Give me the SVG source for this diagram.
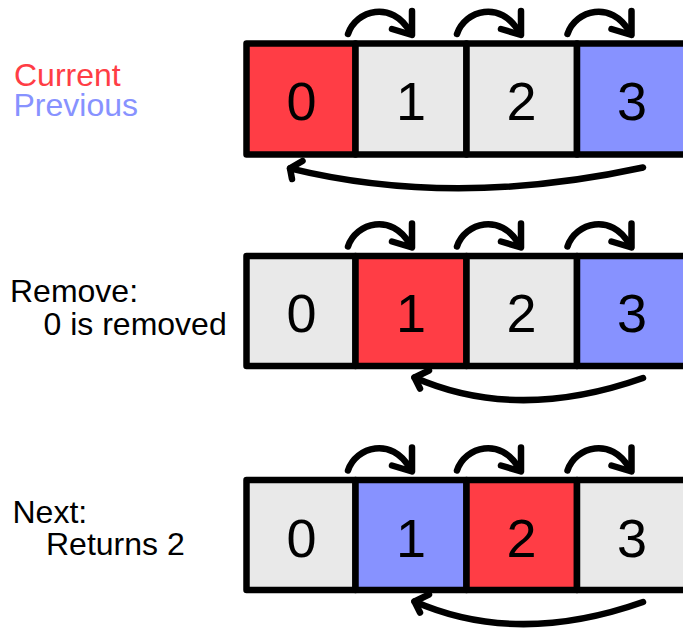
<svg xmlns="http://www.w3.org/2000/svg" width="683" height="628" viewBox="0 0 683 628">
  <style>
    .cell { stroke: #000; stroke-width: 6.5; stroke-linejoin: round; }
    .cur { fill: #ff3d45; }
    .prev { fill: #8792ff; }
    .idle { fill: #e9e9e9; }
    .digit { font-family: "Liberation Sans", Arial, sans-serif; font-size: 54px; fill: #000; text-anchor: middle; }
    .label { font-family: "Liberation Sans", Arial, sans-serif; font-size: 32px; fill: #000; }
    .wire { fill: none; stroke: #000; stroke-width: 6.5; stroke-linecap: round; stroke-linejoin: round; }
  </style>

  <!-- legend and captions -->
  <g id="legend">
    <text class="label" x="14" y="85.5" style="fill:#ff3d45">Current</text>
    <text class="label" x="13.5" y="116" style="fill:#8792ff">Previous</text>
  </g>
  <g id="caption-remove">
    <text class="label" x="10" y="301.5">Remove:</text>
    <text class="label" x="43.5" y="335">0 is removed</text>
  </g>
  <g id="caption-next">
    <text class="label" x="12.5" y="522.5">Next:</text>
    <text class="label" x="46" y="555">Returns 2</text>
  </g>

  <!-- row 1: initial state -->
  <g id="row1">
    <g id="r1c0"><rect class="cell cur" x="246.5" y="43.5" width="109" height="111"/><text class="digit" x="301.5" y="120">0</text></g>
    <g id="r1c1"><rect class="cell idle" x="355.5" y="43.5" width="111" height="111"/><text class="digit" x="411" y="120">1</text></g>
    <g id="r1c2"><rect class="cell idle" x="466.5" y="43.5" width="110.5" height="111"/><text class="digit" x="521.5" y="120">2</text></g>
    <g id="r1c3"><rect class="cell prev" x="577" y="43.5" width="111" height="111"/><text class="digit" x="632" y="120">3</text></g>
  </g>

  <!-- row 2: after remove -->
  <g id="row2">
    <g id="r2c0"><rect class="cell idle" x="246.5" y="256" width="109" height="110"/><text class="digit" x="301.5" y="332">0</text></g>
    <g id="r2c1"><rect class="cell cur" x="355.5" y="256" width="111" height="110"/><text class="digit" x="411" y="332">1</text></g>
    <g id="r2c2"><rect class="cell idle" x="466.5" y="256" width="110.5" height="110"/><text class="digit" x="521.5" y="332">2</text></g>
    <g id="r2c3"><rect class="cell prev" x="577" y="256" width="111" height="110"/><text class="digit" x="632" y="332">3</text></g>
  </g>

  <!-- row 3: after next -->
  <g id="row3">
    <g id="r3c0"><rect class="cell idle" x="246.5" y="480" width="109" height="110"/><text class="digit" x="301.5" y="556.5">0</text></g>
    <g id="r3c1"><rect class="cell prev" x="355.5" y="480" width="111" height="110"/><text class="digit" x="411" y="556.5">1</text></g>
    <g id="r3c2"><rect class="cell cur" x="466.5" y="480" width="110.5" height="110"/><text class="digit" x="521.5" y="556.5">2</text></g>
    <g id="r3c3"><rect class="cell idle" x="577" y="480" width="111" height="110"/><text class="digit" x="632" y="556.5">3</text></g>
  </g>

  <!-- connectors -->
  <g id="connectors">
    <defs>
      <g id="hop">
        <path class="wire" d="M0 0 C8 -24 44 -34 62 -2"/>
        <path class="wire" d="M44 -5 L64 1 L64 -23"/>
      </g>
    </defs>
    <!-- forward hops, row 1 -->
    <use href="#hop" x="348" y="34"/>
    <use href="#hop" x="457" y="34"/>
    <use href="#hop" x="567.5" y="34"/>
    <!-- forward hops, row 2 -->
    <use href="#hop" x="348" y="246.5"/>
    <use href="#hop" x="457" y="246.5"/>
    <use href="#hop" x="567.5" y="246.5"/>
    <!-- forward hops, row 3 -->
    <use href="#hop" x="348" y="470.5"/>
    <use href="#hop" x="457" y="470.5"/>
    <use href="#hop" x="567.5" y="470.5"/>

    <!-- wrap-around links back -->
    <path class="wire" d="M643 167.5 Q454 208.5 290 168.3"/>
    <path class="wire" d="M302.5 161 L290 168.3 L292 179"/>

    <path class="wire" d="M643 378 Q517 422.5 414.5 377.5"/>
    <path class="wire" d="M429 370.5 L414.5 377.5 L420 388.5"/>

    <path class="wire" d="M643 602 Q517 646.5 414.5 601.5"/>
    <path class="wire" d="M429 594.5 L414.5 601.5 L420 612.5"/>
  </g>
</svg>
